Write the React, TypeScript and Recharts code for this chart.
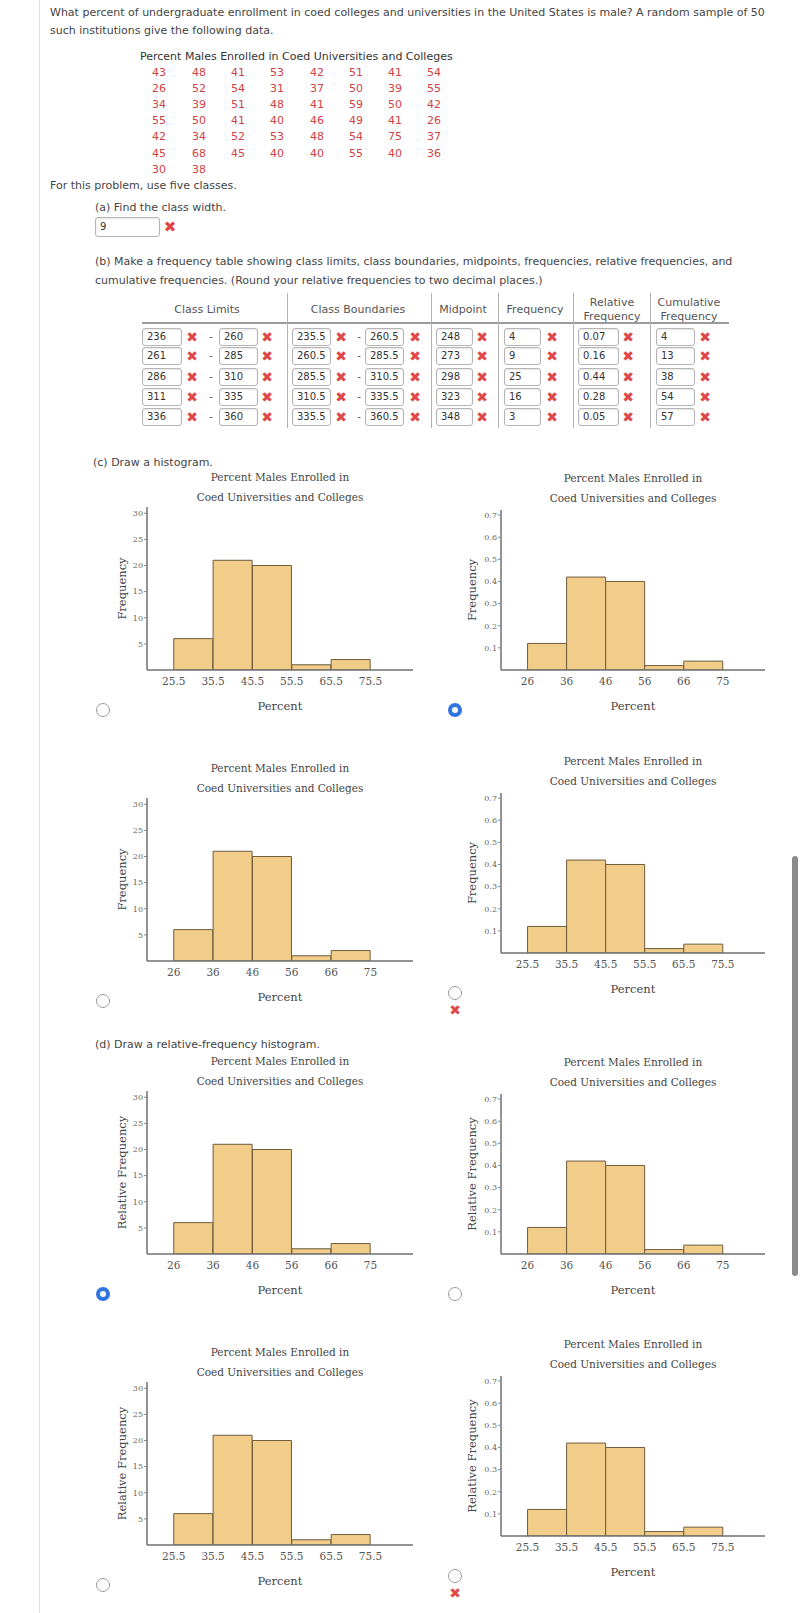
import React from 'react';
import { BarChart, Bar, XAxis, YAxis } from 'recharts';

const SANS = '"DejaVu Sans", Verdana, sans-serif';
const SERIF = '"DejaVu Serif", Georgia, serif';

// question text
const questionLines = [
  'What percent of undergraduate enrollment in coed colleges and universities in the United States is male? A random sample of 50',
  'such institutions give the following data.',
];
const sampleTitle = 'Percent Males Enrolled in Coed Universities and Colleges';
const sampleRows = [
  [43, 48, 41, 53, 42, 51, 41, 54],
  [26, 52, 54, 31, 37, 50, 39, 55],
  [34, 39, 51, 48, 41, 59, 50, 42],
  [55, 50, 41, 40, 46, 49, 41, 26],
  [42, 34, 52, 53, 48, 54, 75, 37],
  [45, 68, 45, 40, 40, 55, 40, 36],
  [30, 38],
];
const classWidthAnswer = '9';

// frequency table answers
const classLower = ['236', '261', '286', '311', '336'];
const classUpper = ['260', '285', '310', '335', '360'];
const boundLower = ['235.5', '260.5', '285.5', '310.5', '335.5'];
const boundUpper = ['260.5', '285.5', '310.5', '335.5', '360.5'];
const midpoints = ['248', '273', '298', '323', '348'];
const tableFreq = ['4', '9', '25', '16', '3'];
const tableRel = ['0.07', '0.16', '0.44', '0.28', '0.05'];
const tableCum = ['4', '13', '38', '54', '57'];

// histogram data
const chartTitle = ['Percent Males Enrolled in', 'Coed Universities and Colleges'];
const binMids = [30.5, 40.5, 50.5, 60.5, 70.5];
const binFreq = [6, 21, 20, 1, 2];
const binRel = [0.12, 0.42, 0.4, 0.02, 0.04];
const edgeTicks = [25.5, 35.5, 45.5, 55.5, 65.5, 75.5];
const boundaryLabels = ['25.5', '35.5', '45.5', '55.5', '65.5', '75.5'];
const limitLabels = ['26', '36', '46', '56', '66', '75'];
const freqTicks = [5, 10, 15, 20, 25, 30];
const relTicks = [0.1, 0.2, 0.3, 0.4, 0.5, 0.6, 0.7];

// layout of the eight answer choices
const histograms = [
  { left: 90, axisY: 670, rel: false, labels: boundaryLabels, yTitle: 'Frequency', radio: 'off' },
  { left: 440, axisY: 670, rel: true, labels: limitLabels, yTitle: 'Frequency', radio: 'on' },
  { left: 90, axisY: 961, rel: false, labels: limitLabels, yTitle: 'Frequency', radio: 'off' },
  { left: 440, axisY: 953, rel: true, labels: boundaryLabels, yTitle: 'Frequency', radio: 'wrong' },
  { left: 90, axisY: 1254, rel: false, labels: limitLabels, yTitle: 'Relative Frequency', radio: 'on' },
  { left: 440, axisY: 1254, rel: true, labels: limitLabels, yTitle: 'Relative Frequency', radio: 'off' },
  { left: 90, axisY: 1545, rel: false, labels: boundaryLabels, yTitle: 'Relative Frequency', radio: 'off' },
  { left: 440, axisY: 1536, rel: true, labels: boundaryLabels, yTitle: 'Relative Frequency', radio: 'wrong' },
];

const sampleCols = [159, 199, 238, 277, 317, 356, 395, 434];
const tableRowsY = [337, 356, 377, 397, 417];

const Txt = ({ x, y, children, center = false, size = 11, color = '#444' }: any) => (
  <div
    style={{
      position: 'absolute',
      left: x,
      top: y - 8,
      lineHeight: '16px',
      fontSize: size,
      color,
      whiteSpace: 'nowrap',
      transform: center ? 'translateX(-50%)' : undefined,
    }}
  >
    {children}
  </div>
);

const Box = ({ x, y, w, text, h = 18 }: any) => (
  <div
    style={{
      position: 'absolute',
      left: x,
      top: y - h / 2,
      width: w,
      height: h,
      border: '1px solid #b5b5b5',
      borderRadius: 3,
      boxSizing: 'border-box',
      fontSize: 10,
      lineHeight: `${h - 2}px`,
      paddingLeft: 4,
      color: '#333',
      background: '#fff',
      boxShadow: 'inset 0 1px 2px rgba(0,0,0,0.10)',
    }}
  >
    {text}
  </div>
);

const Cross = ({ x, y, size = 14 }: any) => (
  <div
    style={{
      position: 'absolute',
      left: x - size / 2,
      top: y - size / 2 - 1,
      width: size,
      fontSize: size,
      lineHeight: `${size + 2}px`,
      textAlign: 'center',
      color: '#e04848',
    }}
  >
    ✖
  </div>
);

const Radio = ({ x, y, on }: any) => (
  <div
    style={{
      position: 'absolute',
      left: x - 7,
      top: y - 7,
      width: 14,
      height: 14,
      borderRadius: '50%',
      boxSizing: 'border-box',
      border: on ? '4px solid #2f74e0' : '1.5px solid #9c9c9c',
      background: '#fff',
    }}
  />
);

const Line = ({ x, y, w, h, color = '#aaa' }: any) => (
  <div style={{ position: 'absolute', left: x, top: y, width: w, height: h, background: color }} />
);

function Histogram({ h }: any) {
  const isLeft = h.left < 400;
  const axisW = isLeft ? 57 : 61;
  const rightM = isLeft ? 7 : 5;
  const plotH = h.rel ? 160 : 163;
  const plotTop = h.axisY - plotH;
  const width = 330;
  const titleGap = isLeft ? 30 : 32;
  const data = binMids.map((m, i) => ({ mid: m, value: h.rel ? binRel[i] : binFreq[i] }));
  const radioX = h.left + (isLeft ? 13 : 15);
  const radioY = h.axisY + 40;

  return (
    <>
      <div
        style={{
          position: 'absolute',
          left: h.left + axisW,
          width: width - axisW - rightM,
          top: plotTop - titleGap - 10,
          lineHeight: '20px',
          textAlign: 'center',
          fontFamily: SERIF,
          fontSize: 10.5,
          color: '#444',
        }}
      >
        {chartTitle[0]}
        <br />
        {chartTitle[1]}
      </div>
      <div style={{ position: 'absolute', left: h.left, top: plotTop }}>
        <BarChart
          width={width}
          height={plotH + 52}
          data={data}
          margin={{ top: 0, right: rightM, bottom: 0, left: 0 }}
          barCategoryGap={0}
          barGap={0}
        >
          <XAxis
            type="number"
            dataKey="mid"
            domain={[18.7, 86.3]}
            allowDataOverflow
            ticks={edgeTicks}
            interval={0}
            tickFormatter={(v: number) => h.labels[edgeTicks.indexOf(v)]}
            tickLine={false}
            tickSize={6}
            tickMargin={2}
            height={52}
            axisLine={{ stroke: '#707070', strokeWidth: 1.5 }}
            tick={{ fontSize: 10.5, fill: '#555', fontFamily: SERIF }}
            label={{
              value: 'Percent',
              position: 'insideBottom',
              offset: 12,
              style: { fontSize: 11.5, fill: '#444', fontFamily: SERIF },
            }}
          />
          <YAxis
            type="number"
            domain={h.rel ? [0, 0.723] : [0, 31.2]}
            allowDataOverflow
            ticks={h.rel ? relTicks : freqTicks}
            interval={0}
            width={axisW}
            tickSize={3}
            tickMargin={1}
            axisLine={{ stroke: '#707070', strokeWidth: 1.5 }}
            tickLine={{ stroke: '#888' }}
            tick={{ fontSize: 8, fill: '#666', fontFamily: SERIF }}
            label={{
              value: h.yTitle,
              angle: -90,
              position: 'insideLeft',
              offset: 32,
              style: { textAnchor: 'middle', fontSize: 11.5, fill: '#444', fontFamily: SERIF },
            }}
          />
          <Bar dataKey="value" fill="#f2cd89" stroke="#6e5c3c" strokeWidth={1} isAnimationActive={false} />
        </BarChart>
      </div>
      <Radio x={radioX} y={radioY} on={h.radio === 'on'} />
      {h.radio === 'wrong' && <Cross x={radioX} y={radioY + 17} />}
    </>
  );
}

export default function App() {
  const tableCells = [
    { vals: classLower, box: 142, w: 40, cross: 192 },
    { vals: classUpper, box: 219, w: 39, cross: 267 },
    { vals: boundLower, box: 292, w: 39, cross: 341 },
    { vals: boundUpper, box: 365, w: 39, cross: 415 },
    { vals: midpoints, box: 436, w: 37, cross: 482 },
    { vals: tableFreq, box: 504, w: 37, cross: 552 },
    { vals: tableRel, box: 578, w: 41, cross: 628 },
    { vals: tableCum, box: 656, w: 39, cross: 705 },
  ];

  return (
    <div
      style={{
        position: 'absolute',
        left: 0,
        top: 0,
        width: 800,
        height: 1613,
        background: '#fff',
        overflow: 'hidden',
        fontFamily: SANS,
      }}
    >
      <Line x={39} y={0} w={1} h={1613} color="#e2e2e2" />

      <Txt x={50} y={13}>{questionLines[0]}</Txt>
      <Txt x={50} y={31}>{questionLines[1]}</Txt>

      <Txt x={140} y={57} color="#333">{sampleTitle}</Txt>
      {sampleRows.map((row, r) =>
        row.map((v, c) => (
          <Txt key={`${r}-${c}`} x={sampleCols[c]} y={73 + r * 16.1} center color="#d04343">
            {v}
          </Txt>
        ))
      )}

      <Txt x={50} y={186}>For this problem, use five classes.</Txt>
      <Txt x={95} y={208}>(a) Find the class width.</Txt>
      <Box x={95} y={227} w={65} h={20} text={classWidthAnswer} />
      <Cross x={170} y={227} size={15} />

      <Txt x={95} y={262}>
        (b) Make a frequency table showing class limits, class boundaries, midpoints, frequencies, relative frequencies, and
      </Txt>
      <Txt x={95} y={281}>
        cumulative frequencies. (Round your relative frequencies to two decimal places.)
      </Txt>

      <Txt x={207} y={310} center color="#555">Class Limits</Txt>
      <Txt x={358} y={310} center color="#555">Class Boundaries</Txt>
      <Txt x={463} y={310} center color="#555">Midpoint</Txt>
      <Txt x={535} y={310} center color="#555">Frequency</Txt>
      <Txt x={612} y={303} center color="#555">Relative</Txt>
      <Txt x={612} y={317} center color="#555">Frequency</Txt>
      <Txt x={689} y={303} center color="#555">Cumulative</Txt>
      <Txt x={689} y={317} center color="#555">Frequency</Txt>
      <Line x={142} y={322} w={587} h={2} color="#9a9a9a" />
      {[287, 431, 498, 573, 650].map((x) => (
        <Line key={x} x={x} y={293} w={1} h={135} color="#b0b0b0" />
      ))}
      {tableRowsY.map((y, r) => (
        <React.Fragment key={r}>
          {tableCells.map((col, c) => (
            <React.Fragment key={c}>
              <Box x={col.box} y={y} w={col.w} text={col.vals[r]} />
              <Cross x={col.cross} y={y} />
            </React.Fragment>
          ))}
          <Txt x={211} y={y} center size={10} color="#555">-</Txt>
          <Txt x={359} y={y} center size={10} color="#555">-</Txt>
        </React.Fragment>
      ))}

      <Txt x={93} y={463}>(c) Draw a histogram.</Txt>
      <Txt x={95} y={1045}>(d) Draw a relative-frequency histogram.</Txt>

      {histograms.map((h, i) => (
        <Histogram key={i} h={h} />
      ))}

      <div
        style={{
          position: 'absolute',
          left: 792,
          top: 856,
          width: 6,
          height: 420,
          borderRadius: 3,
          background: '#8a8a8a',
        }}
      />
    </div>
  );
}
